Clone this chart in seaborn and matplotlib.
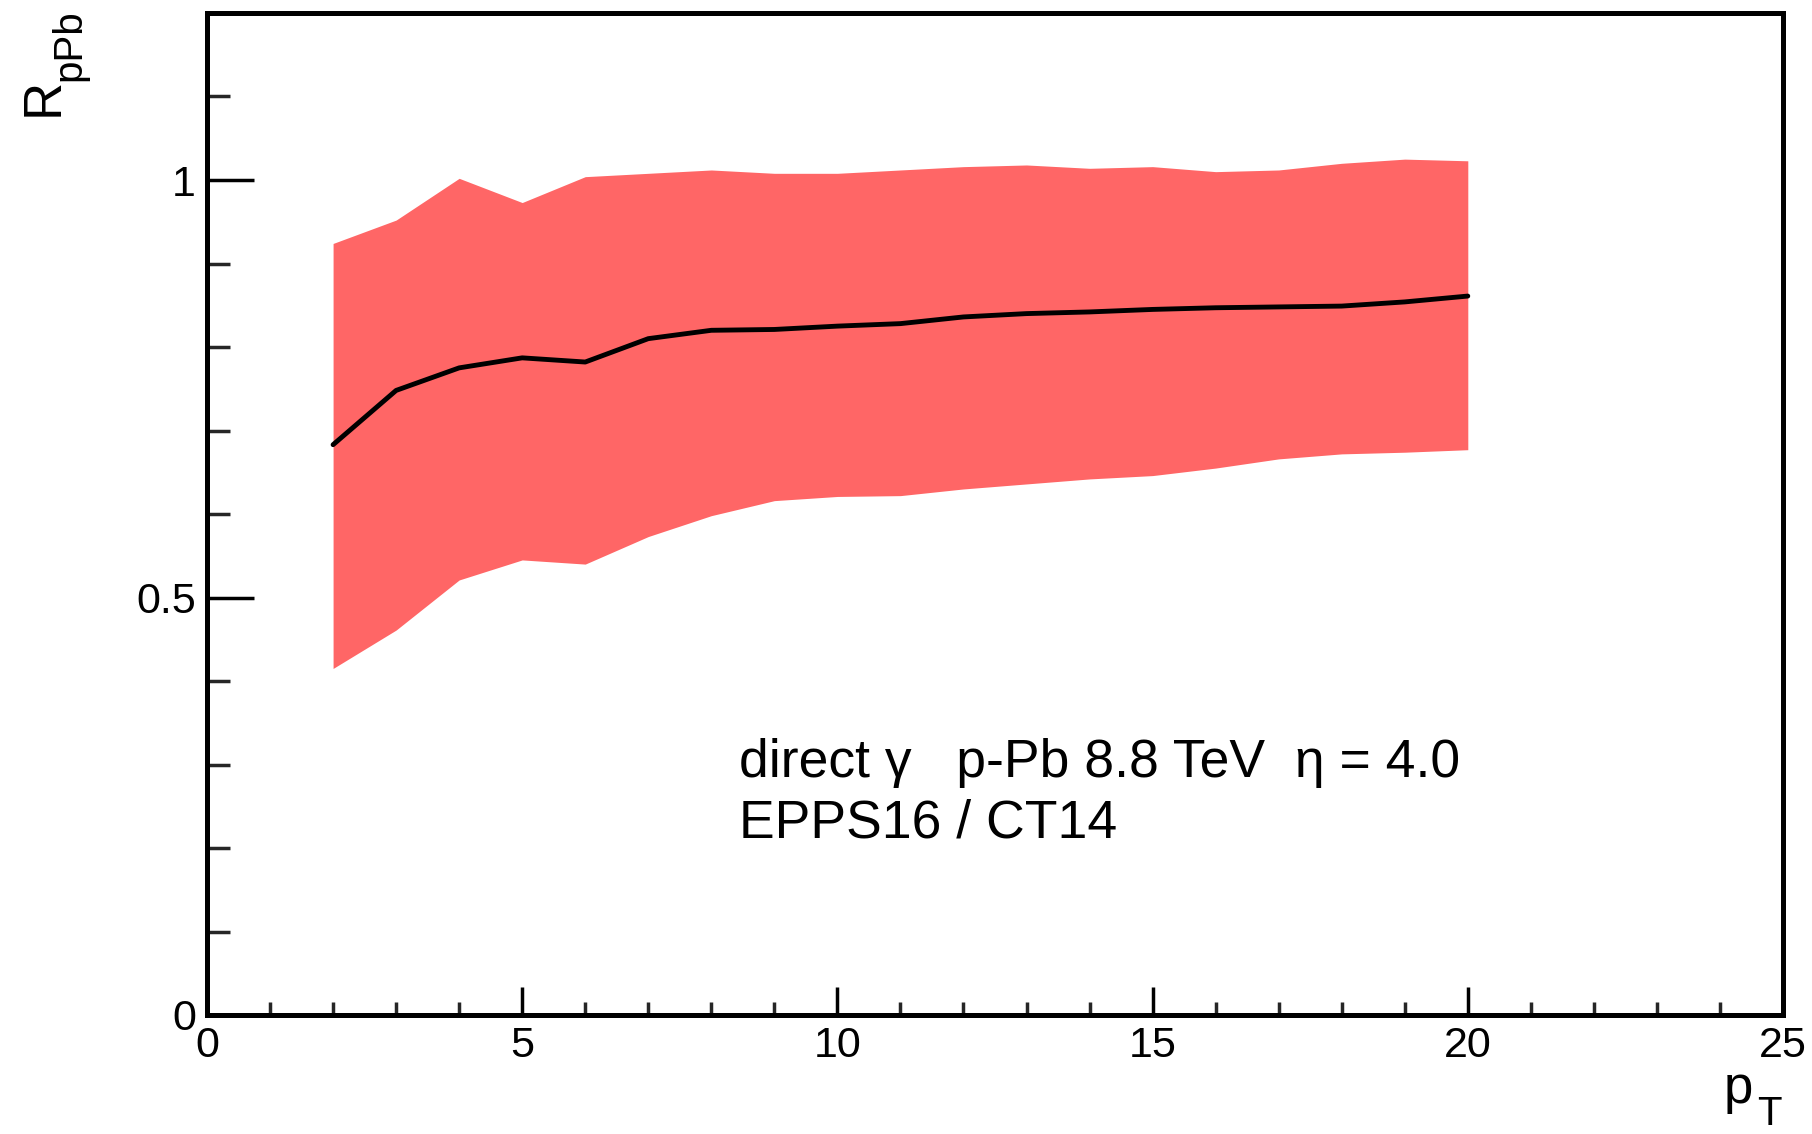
import numpy as np
import pandas as pd
import matplotlib
matplotlib.use('Agg')
import matplotlib.pyplot as plt
from matplotlib.ticker import MultipleLocator
import seaborn as sns

# ---- data ----
pt = [2, 3, 4, 5, 6, 7, 8, 9, 10, 11, 12, 13, 14, 15, 16, 17, 18, 19, 20]
r_central = [0.683, 0.748, 0.775, 0.787, 0.782, 0.810, 0.820, 0.821, 0.825, 0.828,
             0.836, 0.840, 0.842, 0.845, 0.847, 0.848, 0.849, 0.854, 0.861]
r_upper = [0.924, 0.952, 1.002, 0.973, 1.004, 1.008, 1.012, 1.008, 1.008, 1.012,
           1.016, 1.018, 1.014, 1.016, 1.010, 1.012, 1.020, 1.025, 1.023]
r_lower = [0.415, 0.461, 0.521, 0.545, 0.540, 0.573, 0.598, 0.616, 0.621, 0.622,
           0.630, 0.636, 0.642, 0.646, 0.655, 0.666, 0.672, 0.674, 0.677]

x_ticks = [0, 5, 10, 15, 20, 25]
x_tick_labels = ['0', '5', '10', '15', '20', '25']
y_ticks = [0, 0.5, 1]
y_tick_labels = ['0', '0.5', '1']

label_line1 = "direct γ   p-Pb 8.8 TeV  η = 4.0"
label_line2 = "EPPS16 / CT14"

# ---- style ----
sns.set_theme(style='white')
plt.rcParams['font.family'] = ['Liberation Sans', 'DejaVu Sans']

W, H = 1812, 1134
fig = plt.figure(figsize=(W / 100, H / 100), dpi=100)
fig.patch.set_facecolor('white')


def fx(px):
    return px / W


def fy(py):
    return 1 - py / H


ax = fig.add_axes([fx(207), fy(1015), (1783 - 207) / W, (1015 - 13) / H])
ax.set_facecolor('white')

df = pd.DataFrame({'pt': pt, 'central': r_central, 'upper': r_upper, 'lower': r_lower})

ax.fill_between(df['pt'], df['lower'], df['upper'], color='#ff6666', linewidth=0, zorder=1)
sns.lineplot(data=df, x='pt', y='central', color='black', linewidth=3.5,
             errorbar=None, ax=ax, zorder=2)

ax.set_xlim(0, 25)
ax.set_ylim(0, 1.2)
ax.set_xlabel('')
ax.set_ylabel('')

ax.set_xticks(x_ticks, x_tick_labels)
ax.set_yticks(y_ticks, y_tick_labels)
ax.xaxis.set_minor_locator(MultipleLocator(1))
ax.yaxis.set_minor_locator(MultipleLocator(0.1))

for sp in ax.spines.values():
    sp.set_color('black')
    sp.set_linewidth(3.6)

ax.tick_params(axis='x', which='major', direction='in', length=20, width=2.5,
               bottom=True, top=False, labelsize=31, pad=8, colors='black')
ax.tick_params(axis='x', which='minor', direction='in', length=9.5, width=2.5,
               bottom=True, top=False)
ax.tick_params(axis='y', which='major', direction='in', length=34, width=2.5,
               left=True, right=False, labelsize=31, pad=8, colors='black')
ax.tick_params(axis='y', which='minor', direction='in', length=16.5, width=2.5,
               left=True, right=False)
ax.grid(False)

# ---- annotation text ----
fig.text(fx(739), fy(777), label_line1, fontsize=38.5, ha='left', va='baseline', color='black')
fig.text(fx(739), fy(838), label_line2, fontsize=38.5, ha='left', va='baseline', color='black')

# ---- axis titles (ROOT style, placed at the axis ends) ----
fig.text(fx(58), fy(116), 'R', fontsize=38, rotation=90, rotation_mode='anchor',
         ha='left', va='baseline', color='black')
fig.text(fx(80), fy(81), 'pPb', fontsize=29, rotation=90, rotation_mode='anchor',
         ha='left', va='baseline', color='black')

fig.text(fx(1724), fy(1103), 'p', fontsize=38, ha='left', va='baseline', color='black')
fig.text(fx(1757), fy(1125), 'T', fontsize=29, ha='left', va='baseline', color='black')

fig.savefig('out.png', dpi=100, facecolor='white')
